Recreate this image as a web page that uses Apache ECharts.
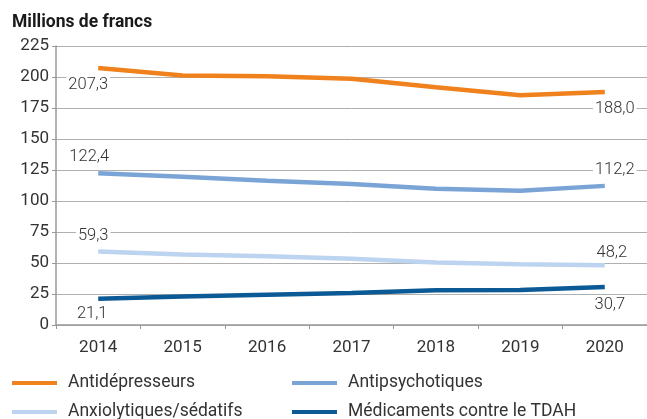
<!DOCTYPE html>
<html>
<head>
<meta charset="utf-8">
<script src="https://cdn.jsdelivr.net/npm/echarts@6/dist/echarts.min.js"></script>
<style>
  html, body { margin: 0; padding: 0; background: #fff; }
  #chart { width: 647px; height: 419px; }
</style>
</head>
<body>
<div id="chart"></div>
<script>
// data
const years = ['2014', '2015', '2016', '2017', '2018', '2019', '2020'];
const antidepresseurs = [207.3, 201.2, 200.6, 198.6, 191.8, 185.2, 188.0];
const antipsychotiques = [122.4, 119.6, 116.4, 113.8, 109.8, 108.3, 112.2];
const anxiolytiques = [59.3, 56.8, 55.4, 53.4, 50.4, 49.0, 48.2];
const tdah = [21.1, 22.9, 24.4, 25.9, 28.0, 28.2, 30.7];
const yTicks = [0, 25, 50, 75, 100, 125, 150, 175, 200, 225];

const font = 'Roboto, "Noto Sans", sans-serif';
const txt = '#333';

function fmt(v) {
    return v.toFixed(1).replace('.', ',');
}

// first and last point carry a value label
function withLabels(values, first, last) {
    return values.map(function (v, i) {
        let item = { value: v };
        let lab = i === 0 ? first : (i === values.length - 1 ? last : null);
        if (lab) {
            item.label = Object.assign({
                show: true,
                formatter: fmt(v),
                fontFamily: font,
                fontSize: 16.5,
                fontWeight: 300,
                color: txt,
                backgroundColor: '#fff',
                padding: [0, 2]
            }, lab);
        }
        return item;
    });
}

function lineSeries(name, color, data) {
    return {
        name: name,
        type: 'line',
        data: data,
        symbol: 'circle',
        symbolSize: 0,
        showSymbol: true,
        lineStyle: { width: 4.5, color: color },
        itemStyle: { color: color },
        z: 3
    };
}

// one legend block per item, laid out in two columns
function legendItem(name, left, top) {
    return {
        left: left,
        top: top,
        data: [name],
        icon: 'rect',
        itemWidth: 45,
        itemHeight: 4,
        textStyle: { fontFamily: font, fontSize: 17.5, color: txt, lineHeight: 18, padding: [0, 0, 0, 6] }
    };
}

const chart = echarts.init(document.getElementById('chart'));
const option = {
    animation: false,
    backgroundColor: '#fff',
    title: {
        text: 'Millions de francs',
        left: 7,
        top: 9,
        textStyle: { fontFamily: font, fontSize: 17.5, fontWeight: 'bold', color: '#1a1a1a' }
    },
    grid: { left: 56, top: 46, width: 596, height: 279 },
    xAxis: {
        type: 'category',
        data: years,
        boundaryGap: true,
        axisLine: { lineStyle: { color: '#999', width: 1.5 } },
        axisTick: { show: true, length: 4, lineStyle: { color: '#999' } },
        axisLabel: { fontFamily: font, fontSize: 17, color: txt, margin: 14 }
    },
    yAxis: {
        type: 'value',
        min: yTicks[0],
        max: yTicks[yTicks.length - 1],
        interval: 25,
        axisLine: { show: true, lineStyle: { color: '#999', width: 1.5 } },
        axisTick: { show: true, length: 4, lineStyle: { color: '#999' } },
        axisLabel: { fontFamily: font, fontSize: 17, color: txt, margin: 7 },
        splitLine: { lineStyle: { color: '#b0b0b0', width: 1 } }
    },
    legend: [
        legendItem('Antidépresseurs', 7, 369),
        legendItem('Anxiolytiques/sédatifs', 7, 398),
        legendItem('Antipsychotiques', 287, 369),
        legendItem('Médicaments contre le TDAH', 287, 398)
    ],
    series: [
        lineSeries('Antidépresseurs', '#f0821e', withLabels(antidepresseurs,
            { position: 'bottom', distance: 8, offset: [-10, 0] },
            { position: 'bottom', distance: 8, offset: [10, 0] })),
        lineSeries('Antipsychotiques', '#7ba4d6', withLabels(antipsychotiques,
            { position: 'top', distance: 8, offset: [-9, 0] },
            { position: 'top', distance: 7, offset: [10, 0] })),
        lineSeries('Anxiolytiques/sédatifs', '#bcd4ef', withLabels(anxiolytiques,
            { position: 'top', distance: 7, offset: [-5, 0] },
            { position: 'top', distance: 4, offset: [7, 0] })),
        lineSeries('Médicaments contre le TDAH', '#0b5a96', withLabels(tdah,
            { position: 'bottom', distance: 7, offset: [-6, 0] },
            { position: 'bottom', distance: 9, offset: [5, 0] }))
    ]
};
chart.setOption(option);
</script>
</body>
</html>
